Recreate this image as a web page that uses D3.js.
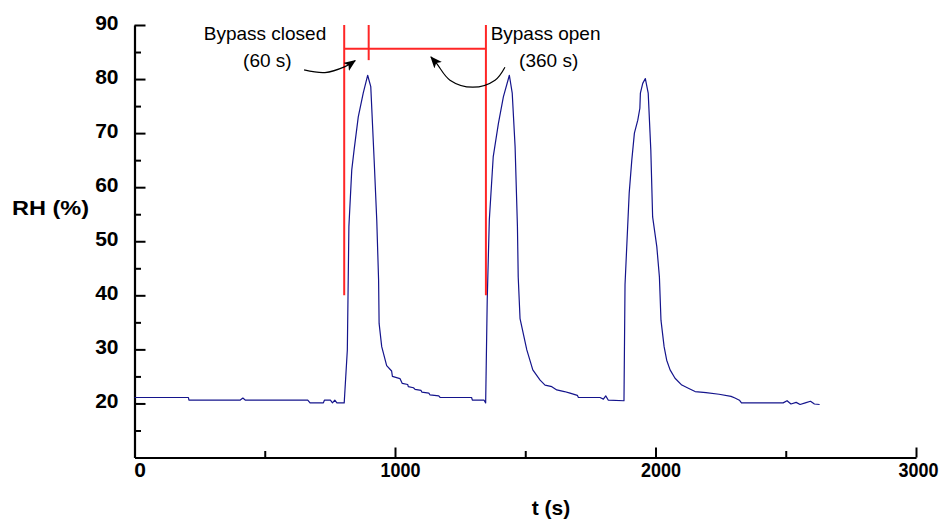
<!DOCTYPE html>
<html>
<head>
<meta charset="utf-8">
<script src="https://cdn.jsdelivr.net/npm/d3@7"></script>
<style>
  html, body { margin: 0; padding: 0; background: #fff; }
  svg { display: block; }
  text { font-family: "Liberation Sans", Arial, sans-serif; }
</style>
</head>
<body>
<svg id="chart" width="945" height="519"></svg>
<script>
// ---------- data ----------
const time = [0,207,209,405,416,426,665,674,725,729,752,760,769,777,805,
  817,823,834,843,859,878,895,907,920,930,937,939,949,968,987,990,1019,1028,1049,1051,1071,1077,1100,1103,1130,1134,1168,1173,1294,1297,1342,1348,
  1354,1362,1377,1397,1416,1439,1450,1461,1470,1473,1480,1506,1529,1557,1576,1602,1621,1650,1672,1700,1704,1787,1800,1809,1819,1879,
  1883,1899,1909,1919,1932,1940,1942,1951,1961,1972,1982,1989,2005,2015,2021,2033,2043,2056,2075,2101,2126,2152,2194,2244,2290,2305,2322,2330,2490,2505,2520,2540,2555,2575,2595,2610,2630];
const rh = [21.1,21.1,20.6,20.6,21.0,20.6,20.6,20.1,20.1,20.6,20.6,20.1,20.6,20.1,20.1,
  29.9,52.7,63.2,66.9,73.0,77.4,80.7,78.6,65.0,53.9,42.8,34.8,30.5,27.0,26.0,25.0,24.6,23.7,23.5,23.1,22.9,22.6,22.4,22.1,21.9,21.6,21.4,21.1,21.1,20.6,20.6,20.1,
  39.1,53.9,65.6,71.8,76.7,80.7,77.4,67.5,52.7,43.4,35.7,29.9,26.2,24.3,23.4,23.1,22.5,22.2,21.9,21.5,21.1,21.1,20.8,21.4,20.6,20.5,
  42.0,58.9,65.0,70.0,72.4,74.6,77.4,79.2,80.1,77.4,66.9,54.5,49.0,43.4,35.4,30.5,28.0,26.2,24.65,23.4,22.8,22.2,22.0,21.7,21.3,21.0,20.6,20.1,20.1,20.5,19.9,20.2,19.8,20.1,20.4,19.9,19.8];

const xMajorTicks = [0, 1000, 2000, 3000];
const xTickLabels = ["0", "1000", "2000", "3000"];
const xMinorTicks = [500, 1500, 2500];
const yMajorTicks = [20, 30, 40, 50, 60, 70, 80, 90];
const yTickLabels = ["20", "30", "40", "50", "60", "70", "80", "90"];
const yMinorTicks = [15, 25, 35, 45, 55, 65, 75, 85];

// bypass markers (red): long verticals, short vertical, horizontal bar
const bypassLong = [805, 1349];
const bypassLongRange = [40, 90];
const bypassShort = [899];
const bypassShortRange = [83.5, 90];
const bypassBar = { t0: 805, t1: 1349, rh: 85.6 };

// annotation arrows (data units)
const arrowClosedT = [651, 731, 808, 847];
const arrowClosedRH = [81.7, 81.2, 82.3, 83.4];
const arrowOpenT = [1422, 1384, 1299, 1211, 1161, 1138];
const arrowOpenRH = [82.2, 79.8, 78.5, 79.8, 82.8, 84.1];

const annTexts = ["Bypass closed", "(60 s)", "Bypass open", "(360 s)"];
const annT = [501, 510, 1578, 1590];
const annRH = [87.2, 82.2, 87.2, 82.2];

// ---------- scales ----------
const svg = d3.select("#chart");
const x = d3.scaleLinear().domain([0, 3000]).range([134.5, 916]);
const y = d3.scaleLinear().domain([10, 90]).range([457.5, 25]);

// ---------- axes ----------
const yAxis = svg.append("g").attr("transform", `translate(${x(0)},0)`)
  .call(d3.axisLeft(y).tickValues(yMajorTicks).tickFormat((d, i) => yTickLabels[i])
    .tickSizeInner(-11).tickSizeOuter(0).tickPadding(16));
yAxis.select(".domain").attr("stroke", "#000").attr("stroke-width", 2.2);
yAxis.selectAll(".tick line").attr("stroke", "#000").attr("stroke-width", 2);
yAxis.selectAll(".tick text").attr("fill", "#000").attr("font-size", 21).attr("font-weight", "bold")
  .attr("font-family", "Liberation Sans, Arial, sans-serif").attr("dy", "0.2em");

const yMinor = svg.append("g").attr("transform", `translate(${x(0)},0)`)
  .call(d3.axisLeft(y).tickValues(yMinorTicks).tickFormat("").tickSizeInner(-6.5).tickSizeOuter(0));
yMinor.select(".domain").remove();
yMinor.selectAll(".tick line").attr("stroke", "#000").attr("stroke-width", 2);

const xAxis = svg.append("g").attr("transform", `translate(0,${y(10)})`)
  .call(d3.axisBottom(x).tickValues(xMajorTicks).tickFormat((d, i) => xTickLabels[i])
    .tickSizeInner(-10).tickSizeOuter(0).tickPadding(4));
xAxis.select(".domain").attr("stroke", "#000").attr("stroke-width", 2.2);
xAxis.selectAll(".tick line").attr("stroke", "#000").attr("stroke-width", 2);
xAxis.selectAll(".tick text").attr("fill", "#000").attr("font-size", 21).attr("font-weight", "bold")
  .attr("font-family", "Liberation Sans, Arial, sans-serif")
  .attr("x", (d, i) => i === xTickLabels.length - 1 ? 2 : 5).attr("dy", "0.72em")
  .each(function(d, i) {
    const s = xTickLabels[i];
    if (s.length > 1) d3.select(this).attr("textLength", 40).attr("lengthAdjust", "spacingAndGlyphs");
  });

const xMinor = svg.append("g").attr("transform", `translate(0,${y(10)})`)
  .call(d3.axisBottom(x).tickValues(xMinorTicks).tickFormat("").tickSizeInner(-6.5).tickSizeOuter(0));
xMinor.select(".domain").remove();
xMinor.selectAll(".tick line").attr("stroke", "#000").attr("stroke-width", 2);

// axis titles
svg.append("text").attr("x", 12).attr("y", 215).attr("font-size", 21).attr("font-weight", "bold")
  .attr("textLength", 77).attr("lengthAdjust", "spacingAndGlyphs").text("RH (%)");
svg.append("text").attr("x", 551).attr("y", 515).attr("text-anchor", "middle").attr("font-size", 21)
  .attr("font-weight", "bold").text("t (s)");

// ---------- data line ----------
const pts = time.map((t, i) => [t, rh[i]]);
svg.append("path").datum(pts)
  .attr("fill", "none").attr("stroke", "#14148c").attr("stroke-width", 1.2).attr("stroke-linejoin", "round")
  .attr("d", d3.line().x(d => x(d[0])).y(d => y(d[1])));

// ---------- red bypass markers ----------
const red = "#ff2626";
svg.selectAll("line.long").data(bypassLong).enter().append("line")
  .attr("x1", d => x(d)).attr("x2", d => x(d))
  .attr("y1", y(bypassLongRange[0])).attr("y2", y(bypassLongRange[1]))
  .attr("stroke", red).attr("stroke-width", 2);
svg.selectAll("line.short").data(bypassShort).enter().append("line")
  .attr("x1", d => x(d)).attr("x2", d => x(d))
  .attr("y1", y(bypassShortRange[0])).attr("y2", y(bypassShortRange[1]))
  .attr("stroke", red).attr("stroke-width", 2);
svg.append("line").attr("x1", x(bypassBar.t0)).attr("x2", x(bypassBar.t1))
  .attr("y1", y(bypassBar.rh)).attr("y2", y(bypassBar.rh)).attr("stroke", red).attr("stroke-width", 2);

// ---------- arrows ----------
svg.append("defs").append("marker").attr("id", "ah")
  .attr("viewBox", "0 0 12 10").attr("refX", 11).attr("refY", 5)
  .attr("markerWidth", 12).attr("markerHeight", 10).attr("markerUnits", "userSpaceOnUse")
  .attr("orient", "auto")
  .append("path").attr("d", "M0,0 L12,5 L0,10 L3,5 Z").attr("fill", "#000");

const arrowLine = d3.line().x(d => x(d[0])).y(d => y(d[1])).curve(d3.curveCatmullRom);
svg.append("path").datum(arrowClosedT.map((t, i) => [t, arrowClosedRH[i]]))
  .attr("d", arrowLine).attr("fill", "none").attr("stroke", "#000").attr("stroke-width", 1.2)
  .attr("marker-end", "url(#ah)");
svg.append("path").datum(arrowOpenT.map((t, i) => [t, arrowOpenRH[i]]))
  .attr("d", arrowLine).attr("fill", "none").attr("stroke", "#000").attr("stroke-width", 1.2)
  .attr("marker-end", "url(#ah)");

// ---------- annotation text ----------
svg.selectAll("text.ann").data(annTexts).enter().append("text")
  .attr("class", "ann")
  .attr("x", (d, i) => x(annT[i])).attr("y", (d, i) => y(annRH[i]))
  .attr("text-anchor", "middle").attr("font-size", 19).attr("fill", "#000")
  .text(d => d);
</script>
</body>
</html>
